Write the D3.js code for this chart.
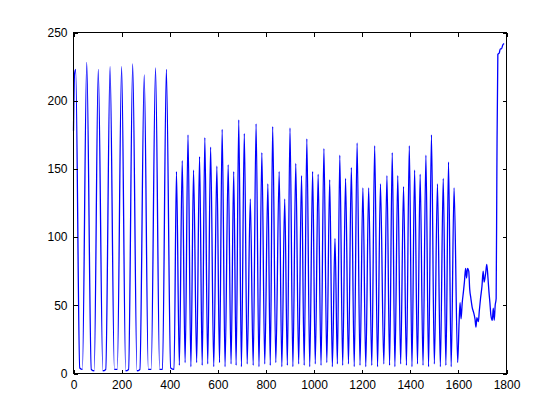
<!DOCTYPE html>
<head>
  <meta charset="utf-8">
  <script src="https://d3js.org/d3.v7.min.js"></script>
</head>
<style>
  body { margin: 0; background: #fff; }
  .axis text { font-family: "Liberation Sans", Arial, Helvetica, sans-serif; font-size: 12px; fill: #000; }
  .axis line { stroke: #000; shape-rendering: crispEdges; }
</style>

<body>
  <div id="chart"></div>

  <script>
'use strict';

// first part: wide slow cycles
var startPts = [[0, 178], [4, 219]];
var slowPeaks = [[9, 223], [55, 228], [103, 223], [152, 225], [200, 225], [246, 227], [294, 219], [341, 224], [386, 223]];
var slowTroughs = [[26, 4], [37, 3], [74, 3], [86, 2], [122, 2], [134, 3], [170, 3], [182, 3], [217, 2], [229, 3],
                   [264, 2], [276, 3], [311, 3], [323, 3], [358, 3], [370, 3], [404, 4], [418, 3]];

// second part: fast spikes
var fastPeaks = [[428, 148], [452, 156], [476, 175], [499, 149], [524, 159], [546, 173], [570, 166], [596, 152],
                 [618, 179], [643, 153], [666, 148], [687, 186], [710, 176], [735, 128], [759, 183], [783, 162], [808, 139],
                 [828, 181], [855, 148], [878, 128], [900, 180], [924, 154], [948, 145], [970, 172], [994, 148], [1017, 146],
                 [1041, 165], [1065, 142], [1087, 99], [1107, 160], [1131, 143], [1155, 151], [1179, 169], [1203, 136], [1227, 136],
                 [1252, 167], [1276, 139], [1303, 145], [1325, 162], [1348, 145], [1372, 137], [1396, 167], [1418, 149],
                 [1441, 146], [1465, 160], [1488, 175], [1513, 139], [1537, 143], [1559, 155], [1582, 136]];
var fastTroughs = [[440, 6], [464, 8], [488, 5], [512, 8], [535, 6], [558, 7], [583, 5], [607, 8], [630, 5], [655, 7],
                   [676, 6], [698, 5], [722, 7], [747, 6], [771, 5], [795, 7], [818, 6], [841, 8], [866, 5], [889, 6],
                   [912, 5], [936, 7], [959, 6], [982, 5], [1005, 7], [1029, 6], [1053, 8], [1076, 5], [1097, 7], [1119, 6],
                   [1143, 7], [1167, 5], [1191, 6], [1215, 5], [1240, 6], [1264, 5], [1290, 7], [1314, 6], [1336, 5], [1360, 7],
                   [1384, 6], [1407, 5], [1430, 7], [1453, 6], [1476, 5], [1500, 7], [1525, 5], [1548, 6], [1570, 5], [1597, 8]];

// last part: noisy humps and the jump at the end
var tailPts = [[1603, 38], [1607, 52], [1611, 40], [1616, 52], [1621, 60], [1625, 67], [1630, 77], [1634, 70], [1638, 77],
               [1643, 75], [1647, 62], [1652, 55], [1658, 48], [1663, 45], [1669, 40], [1673, 34], [1677, 41], [1683, 38],
               [1687, 46], [1692, 55], [1698, 64], [1703, 75], [1707, 67], [1713, 73], [1718, 80], [1723, 70], [1727, 60],
               [1731, 52], [1735, 43], [1741, 39], [1745, 48], [1749, 39], [1753, 50], [1757, 55], [1760, 150], [1764, 234],
               [1770, 235], [1774, 238], [1779, 238], [1785, 241], [1790, 242]];

var xTicks = [0, 200, 400, 600, 800, 1000, 1200, 1400, 1600, 1800];
var yTicks = [0, 50, 100, 150, 200, 250];

var width = 560, height = 420;
var margin = {top: 32.5, right: 53.5, bottom: 46.5, left: 73.5};

var svg = d3.select("#chart").append("svg")
  .attr("width", width)
  .attr("height", height)
  .style("display", "block");

svg.append("rect").attr("width", width).attr("height", height).attr("fill", "#fff");

var x = d3.scaleLinear().domain([0, 1800]).range([margin.left, width - margin.right]);
var y = d3.scaleLinear().domain([0, 250]).range([height - margin.bottom, margin.top]);

var points = [].concat(startPts, slowPeaks, slowTroughs, fastPeaks, fastTroughs, tailPts)
  .sort(function(a, b) { return a[0] - b[0]; });

var line = d3.line()
  .x(function(d) { return x(d[0]); })
  .y(function(d) { return y(d[1]); })
  .curve(d3.curveMonotoneX);

svg.append("path")
  .datum(points)
  .attr("d", line)
  .attr("fill", "none")
  .attr("stroke", "#0000ff")
  .attr("stroke-width", 1.3);

// axes, ticks pointing inward like the matlab box
var fmt = d3.format("d");

svg.append("g").attr("class", "axis")
  .attr("transform", "translate(0," + y(0) + ")")
  .call(d3.axisBottom(x).tickValues(xTicks).tickFormat(fmt).tickSizeInner(-4).tickSizeOuter(0).tickPadding(7))
  .call(function(g) { g.select(".domain").remove(); });

svg.append("g").attr("class", "axis")
  .attr("transform", "translate(0," + y(250) + ")")
  .call(d3.axisTop(x).tickValues(xTicks).tickSizeInner(-4).tickSizeOuter(0).tickFormat(""))
  .call(function(g) { g.select(".domain").remove(); });

svg.append("g").attr("class", "axis")
  .attr("transform", "translate(" + x(0) + ",0)")
  .call(d3.axisLeft(y).tickValues(yTicks).tickFormat(fmt).tickSizeInner(-4).tickSizeOuter(0).tickPadding(6))
  .call(function(g) { g.select(".domain").remove(); });

svg.append("g").attr("class", "axis")
  .attr("transform", "translate(" + x(1800) + ",0)")
  .call(d3.axisRight(y).tickValues(yTicks).tickSizeInner(-4).tickSizeOuter(0).tickFormat(""))
  .call(function(g) { g.select(".domain").remove(); });

svg.append("rect")
  .attr("x", x(0)).attr("y", y(250))
  .attr("width", x(1800) - x(0)).attr("height", y(0) - y(250))
  .attr("fill", "none")
  .attr("stroke", "#000")
  .attr("stroke-width", 1)
  .style("shape-rendering", "crispEdges");
</script>
</body>
